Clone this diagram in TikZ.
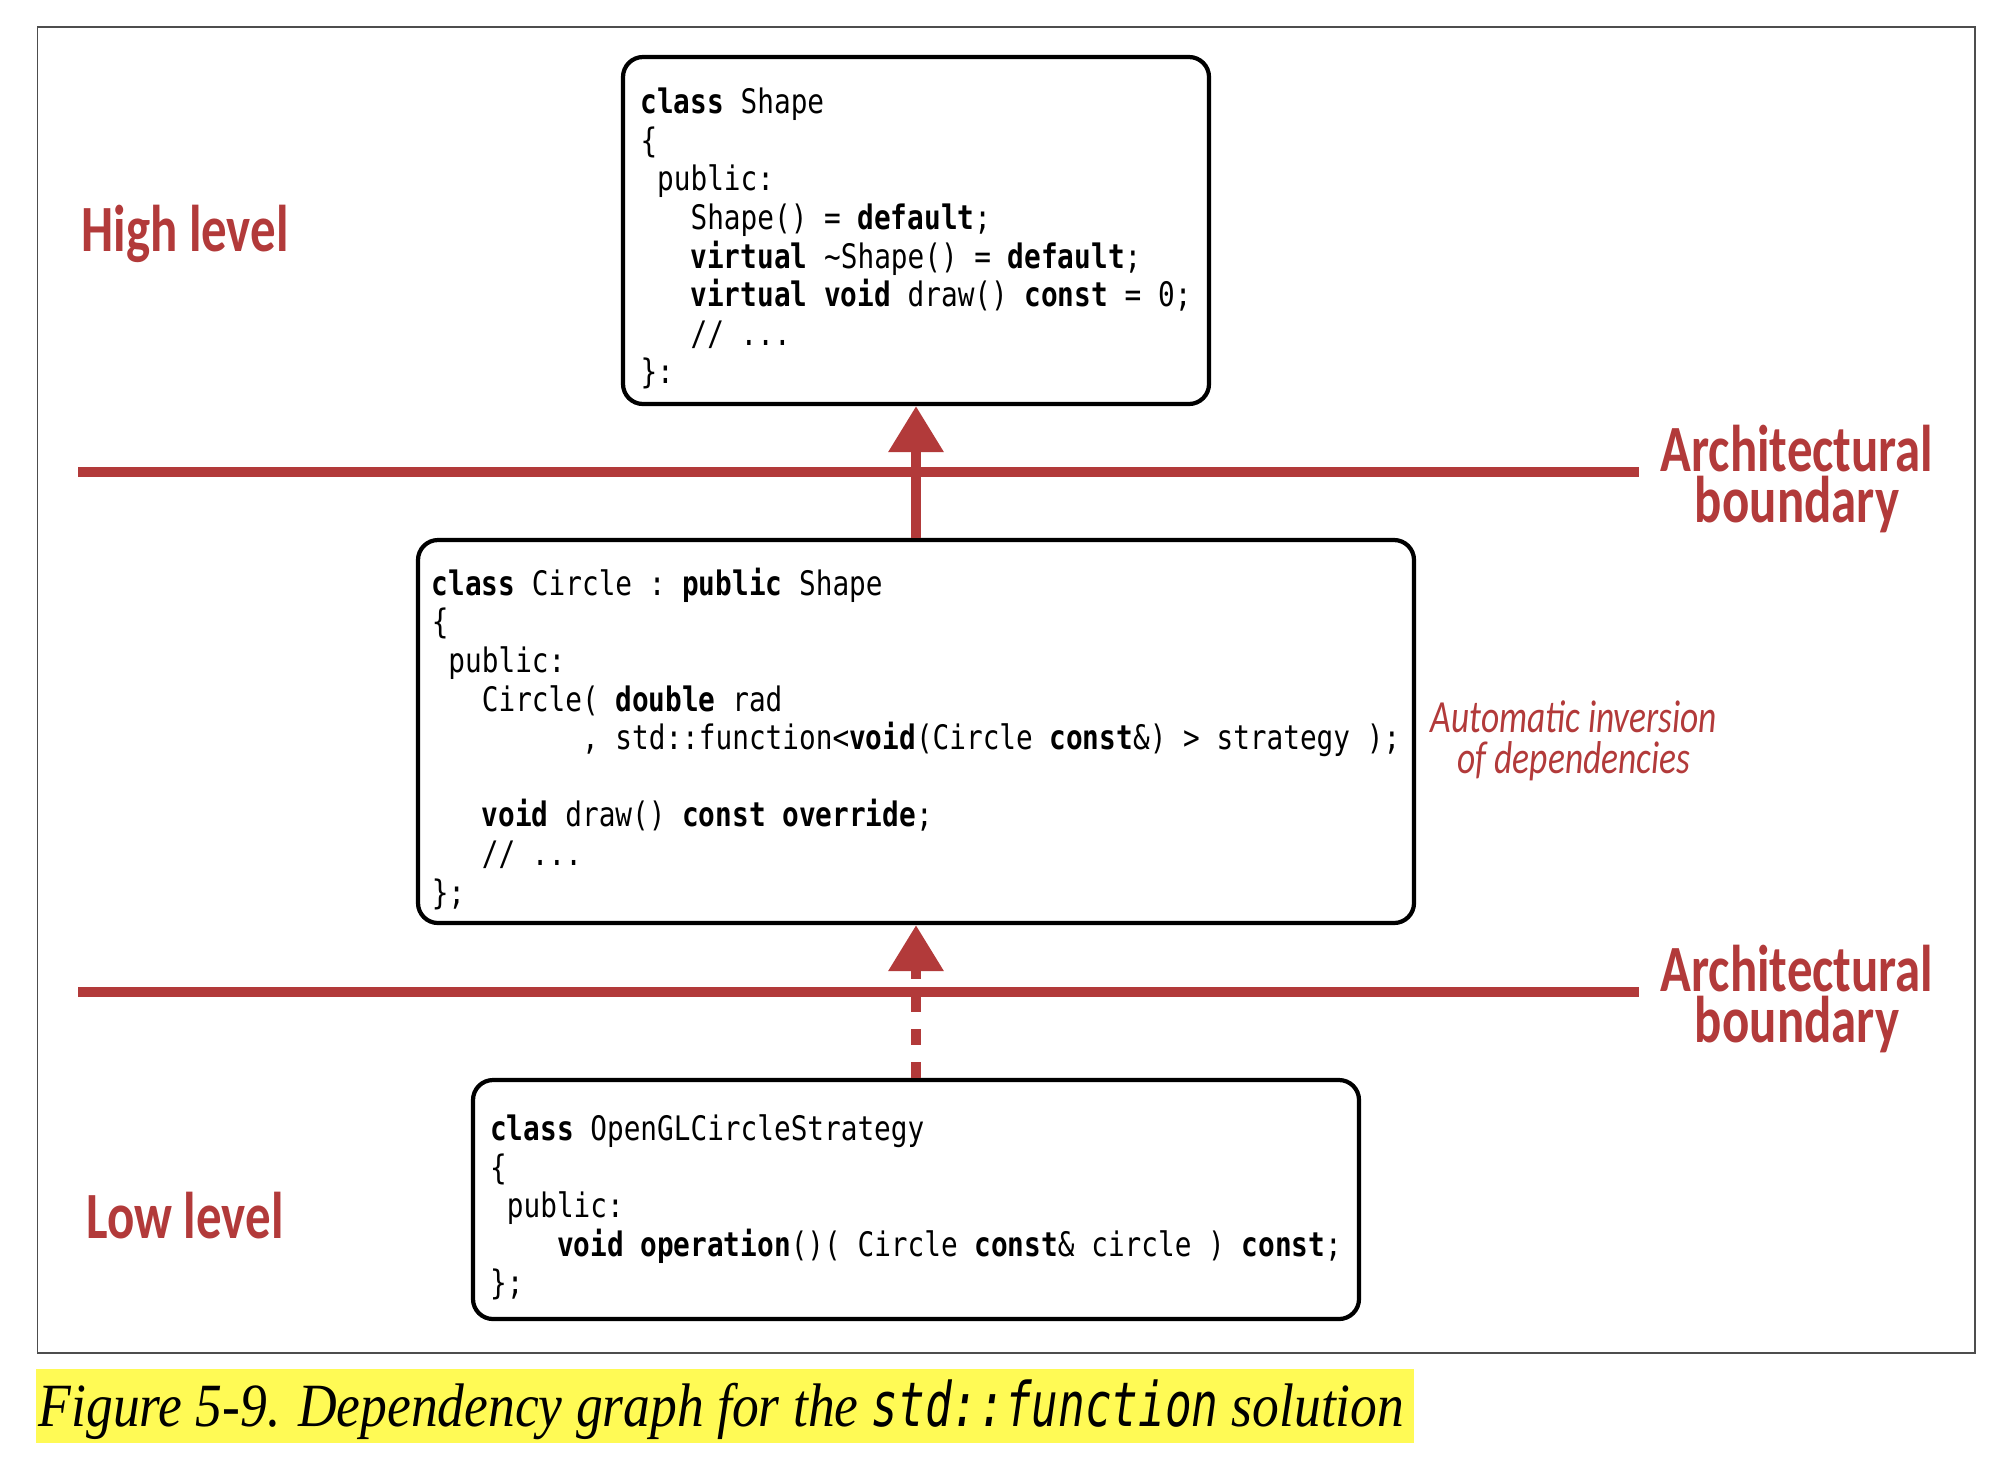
\documentclass[tikz,border=0pt]{standalone}
\usepackage{fontspec}
\usepackage{tikz}
\usetikzlibrary{arrows.meta}
\newfontfamily\codefont[FakeStretch=0.822]{DejaVu Sans Mono}
\newfontfamily\labelfont[FakeStretch=0.77]{Carlito}
\newfontfamily\capfont[FakeStretch=0.87]{Liberation Serif}
\newfontfamily\capmono[FakeStretch=0.72, ItalicFont={DejaVu Sans Mono Oblique}]{DejaVu Sans Mono}
\definecolor{archred}{RGB}{178,58,58}
\definecolor{framegray}{RGB}{77,77,77}
\definecolor{capyellow}{RGB}{255,250,85}
\newcommand{\kw}[1]{\textbf{#1}}
\newcommand{\ind}[1]{\hspace*{#1\fontcharwd\font`0}}
\newcommand{\topline}{\rule{0pt}{0.42cm}}
\tikzstyle{code} = [draw=black, line width=1.2pt, rounded corners=0.2cm, align=left, inner sep=0pt, font={\codefont\fontsize{9.6}{10.98}\selectfont\frenchspacing}]
\tikzstyle{level} = [text=archred, inner sep=0pt, font={\labelfont\bfseries\fontsize{18.8}{14.5}\selectfont}]
\tikzstyle{note} = [text=archred, inner sep=0pt, align=center, font={\labelfont\itshape\fontsize{13.1}{11.66}\selectfont}]
\tikzstyle{boundary} = [archred, line width=0.1cm]
\tikzstyle{dep} = [archred, line width=0.1cm, -{Triangle[length=0.46cm, width=0.53cm]}]

\begin{document}
\begin{tikzpicture}
    \useasboundingbox (0,0) rectangle (20.16,-14.6);
    \draw[framegray, line width=0.5pt] (0.375,-0.27) rectangle (19.75,-13.53);
    % code boxes
    \node[code, minimum width=5.86cm, minimum height=3.47cm] (shape) at (9.16,-2.305) {\topline\kw{class} Shape\\
        \{\\
        \ind{1}public:\\
        \ind{3}Shape() = \kw{default};\\
        \ind{3}\kw{virtual} \textasciitilde Shape() = \kw{default};\\
        \ind{3}\kw{virtual} \kw{void} draw() \kw{const} = 0;\\
        \ind{3}// ...\\
        \}:};
    \node[code, minimum width=9.96cm, minimum height=3.83cm] (circle) at (9.16,-7.315) {\topline\kw{class} Circle : \kw{public} Shape\\
        \{\\
        \ind{1}public:\\
        \ind{3}Circle( \kw{double} rad\\
        \ind{9}, std::function<\kw{void}(Circle \kw{const}\&) > strategy );\\
        \mbox{}\\
        \ind{3}\kw{void} draw() \kw{const} \kw{override};\\
        \ind{3}// ...\\
        \};};
    \node[code, minimum width=8.86cm, minimum height=2.39cm] (strategy) at (9.16,-11.995) {\topline\kw{class} OpenGLCircleStrategy\\
        \{\\
        \ind{1}public:\\
        \ind{4}\kw{void} \kw{operation}()( Circle \kw{const}\& circle ) \kw{const};\\
        \};};
    % levels and boundaries
    \node[level, anchor=base] (high) at (1.85,-2.51) {High level};
    \node[level, anchor=base] (low) at (1.85,-12.38) {Low level};
    \draw[boundary] (0.78,-4.72) -- (16.39,-4.72);
    \draw[boundary] (0.78,-9.92) -- (16.39,-9.92);
    \node[level, align=center] (upper) at (17.97,-4.79) {Architectural\\boundary};
    \node[level, align=center] (lower) at (17.97,-9.99) {Architectural\\boundary};
    \node[note] (inversion) at (15.74,-7.41) {Automatic inversion\\of dependencies};
    % dependencies
    \draw[dep] (circle) -- (shape);
    \draw[dep, dash pattern=on 0.16cm off 0.17cm] (strategy) -- (circle);
    % caption
    \fill[capyellow] (0.36,-13.69) rectangle (14.14,-14.43);
    \node[anchor=base west, inner sep=0pt, font={\capfont\itshape\fontsize{17.5}{20}\selectfont}] (caption) at (0.38,-14.26) {Figure 5-9. Dependency graph for the {\capmono std::function} solution};
\end{tikzpicture}
\end{document}
